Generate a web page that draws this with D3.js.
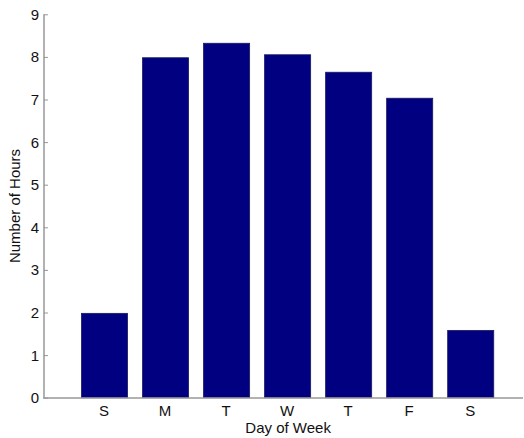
<!DOCTYPE html>
<html><head><meta charset="utf-8">
<script src="https://cdn.jsdelivr.net/npm/d3@7"></script>
<style>body{margin:0;background:#fff;} svg{display:block;} text{font-family:"Liberation Sans",Arial,sans-serif;}</style>
</head><body><svg id="c" width="524" height="438"></svg>
<script>
const days = ["S","M","T","W","T","F","S"];
const hours = [1.98, 7.98, 8.32, 8.05, 7.64, 7.03, 1.58];
const yTicks = [0,1,2,3,4,5,6,7,8,9];

const svg = d3.select("#c");
const x0 = 43, ySpan = [397.7, 14.3];
const step = 61.03;
const x = d3.scaleLinear().domain([0, 8]).range([x0, x0 + 8*step]);
const y = d3.scaleLinear().domain([0, 9]).range(ySpan);
const bw = 0.755;

svg.selectAll("rect.bar").data(hours).enter().append("rect")
  .attr("class","bar")
  .attr("x",(d,i)=>x(i+1-bw/2)+0.5)
  .attr("width",(x(bw)-x(0)))
  .attr("y",d=>y(d))
  .attr("height",d=>y(0)-y(d))
  .attr("fill","#000080")
  .attr("stroke","#1a1a60")
  .attr("stroke-width",0.8);

// y axis
const yAxis = d3.axisRight(y).tickValues(yTicks).tickSize(4).tickFormat("");
const gy = svg.append("g").attr("transform",`translate(${x0+1},0)`).call(yAxis);
gy.select(".domain").remove();
gy.selectAll("line").attr("stroke","#999");
svg.append("line").attr("x1",x0+1).attr("x2",x0+1).attr("y1",y(9)).attr("y2",y(0)).attr("stroke","#888").attr("stroke-width",1.3);
svg.selectAll("text.yt").data(yTicks).enter().append("text")
  .attr("class","yt").attr("x",39).attr("y",d=>y(d)).attr("dy","0.36em")
  .attr("text-anchor","end").attr("font-size",15).attr("fill","#111").text(d=>d);

// x axis
svg.append("line").attr("x1",x0).attr("x2",523).attr("y1",y(0)+0.3).attr("y2",y(0)+0.3).attr("stroke","#999").attr("stroke-width",1.5);
svg.selectAll("text.xt").data(days).enter().append("text")
  .attr("class","xt").attr("x",(d,i)=>x(i+1)).attr("y",416)
  .attr("text-anchor","middle").attr("font-size",15).attr("fill","#111").text(d=>d);

svg.append("text").attr("x",x(4)+1).attr("y",433).attr("text-anchor","middle")
  .attr("font-size",15).attr("fill","#111").text("Day of Week");
svg.append("text").attr("transform",`translate(20,${(y(0)+y(9))/2}) rotate(-90)`)
  .attr("text-anchor","middle").attr("font-size",15).attr("fill","#111").text("Number of Hours");
</script></body></html>
